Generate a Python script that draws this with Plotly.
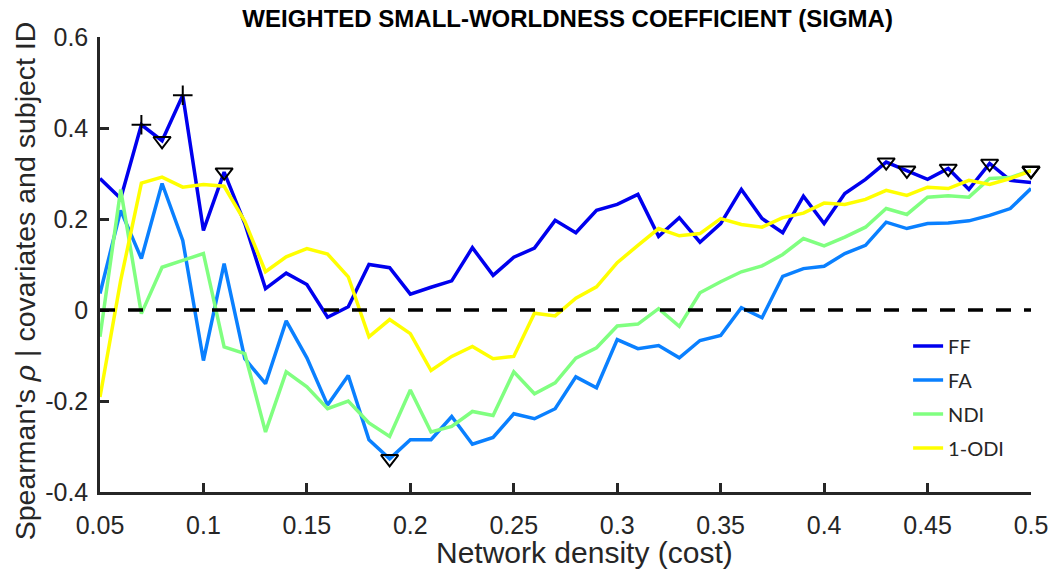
import plotly.graph_objects as go

# Network density (cost) thresholds
density = [0.05, 0.06, 0.07, 0.08, 0.09, 0.10, 0.11, 0.12, 0.13, 0.14,
           0.15, 0.16, 0.17, 0.18, 0.19, 0.20, 0.21, 0.22, 0.23, 0.24,
           0.25, 0.26, 0.27, 0.28, 0.29, 0.30, 0.31, 0.32, 0.33, 0.34,
           0.35, 0.36, 0.37, 0.38, 0.39, 0.40, 0.41, 0.42, 0.43, 0.44,
           0.45, 0.46, 0.47, 0.48, 0.49, 0.50]

# Partial Spearman correlations of weighted sigma with each microstructure measure
ff = [0.289, 0.245, 0.407, 0.372, 0.472, 0.175, 0.303, 0.190, 0.047, 0.081,
      0.056, -0.016, 0.007, 0.100, 0.093, 0.035, 0.050, 0.064, 0.137, 0.076,
      0.116, 0.136, 0.197, 0.170, 0.219, 0.232, 0.254, 0.162, 0.203, 0.149,
      0.190, 0.265, 0.201, 0.170, 0.250, 0.190, 0.256, 0.287, 0.325, 0.307,
      0.287, 0.311, 0.265, 0.322, 0.285, 0.280]
fa = [0.036, 0.219, 0.113, 0.278, 0.153, -0.111, 0.102, -0.107, -0.162, -0.024,
      -0.105, -0.209, -0.144, -0.285, -0.327, -0.285, -0.285, -0.234, -0.295, -0.280,
      -0.228, -0.239, -0.217, -0.147, -0.171, -0.065, -0.085, -0.078, -0.105, -0.067,
      -0.056, 0.005, -0.017, 0.074, 0.091, 0.096, 0.124, 0.142, 0.193, 0.179,
      0.190, 0.191, 0.196, 0.208, 0.223, 0.267]
ndi = [-0.059, 0.265, -0.008, 0.094, 0.109, 0.124, -0.081, -0.096, -0.268, -0.136,
       -0.169, -0.217, -0.200, -0.248, -0.278, -0.176, -0.268, -0.256, -0.223, -0.232,
       -0.136, -0.184, -0.160, -0.106, -0.083, -0.035, -0.031, 0.003, -0.036, 0.038,
       0.062, 0.084, 0.097, 0.122, 0.157, 0.141, 0.160, 0.182, 0.223, 0.210,
       0.248, 0.251, 0.248, 0.289, 0.291, 0.307]
odi = [-0.191, 0.065, 0.279, 0.292, 0.270, 0.276, 0.272, 0.195, 0.084, 0.117,
       0.135, 0.123, 0.073, -0.059, -0.021, -0.052, -0.133, -0.102, -0.080, -0.107,
       -0.102, -0.007, -0.013, 0.026, 0.051, 0.104, 0.142, 0.179, 0.163, 0.168,
       0.201, 0.188, 0.182, 0.203, 0.213, 0.235, 0.232, 0.243, 0.263, 0.252,
       0.270, 0.267, 0.285, 0.276, 0.289, 0.306]

series_names = ["FF", "FA", "NDI", "1-ODI"]
series_colors = ["#0000EE", "#0A80FF", "#80FF80", "#FFFF00"]

# Densities flagged as significant ('+' and downward triangles)
ff_plus = [0.07, 0.09]
ff_tri = [0.08, 0.11, 0.43, 0.44, 0.46, 0.48]
fa_tri = [0.19]
ndi_tri = [0.50]
odi_tri = [0.50]

x_ticks = [0.05, 0.10, 0.15, 0.20, 0.25, 0.30, 0.35, 0.40, 0.45, 0.50]
x_ticklabels = ["0.05", "0.1", "0.15", "0.2", "0.25", "0.3", "0.35", "0.4", "0.45", "0.5"]
y_ticks = [-0.4, -0.2, 0.0, 0.2, 0.4, 0.6]
y_ticklabels = ["-0.4", "-0.2", "0", "0.2", "0.4", "0.6"]

FONT = "Liberation Sans, Arial, sans-serif"
AXIS_COLOR = "#262626"

fig = go.Figure()

for name, vals, col in zip(series_names, [ff, fa, ndi, odi], series_colors):
    fig.add_trace(go.Scatter(
        x=density, y=vals, mode="lines", name=name, legendgroup=name,
        line=dict(color=col, width=3.5), cliponaxis=False,
    ))


def marker_trace(xs, vals, symbol, size):
    lookup = dict(zip(density, vals))
    return go.Scatter(
        x=xs, y=[lookup[v] for v in xs], mode="markers", showlegend=False,
        hoverinfo="skip", cliponaxis=False,
        marker=dict(symbol=symbol, size=size, color="black",
                    line=dict(color="black", width=2)),
    )


fig.add_trace(marker_trace(ff_plus, ff, "cross-thin-open", 14))
fig.add_trace(marker_trace(ff_tri, ff, "triangle-down-open", 15))
fig.add_trace(marker_trace(fa_tri, fa, "triangle-down-open", 15))
fig.add_trace(marker_trace(ndi_tri, ndi, "triangle-down-open", 15))
fig.add_trace(marker_trace(odi_tri, odi, "triangle-down-open", 15))

# Zero reference line
fig.add_shape(type="line", xref="paper", yref="y", x0=0, x1=1, y0=0, y1=0,
              line=dict(color="black", width=3.5, dash="15px,13px"), layer="above")

fig.update_layout(
    width=1060, height=575,
    margin=dict(l=100, r=26, t=37, b=83),
    paper_bgcolor="white", plot_bgcolor="white",
    font=dict(family=FONT, color=AXIS_COLOR),
    title=dict(text="<b>WEIGHTED SMALL-WORLDNESS COEFFICIENT (SIGMA)</b>",
               x=0.5355, xanchor="center", y=0.967, yanchor="middle",
               font=dict(family=FONT, size=24, color="black")),
    showlegend=True,
    legend=dict(x=0.868, xanchor="left", y=0.364, yanchor="top",
                bgcolor="rgba(0,0,0,0)", borderwidth=0,
                font=dict(family="Lato, Noto Sans, sans-serif", size=20, color="#262626"),
                tracegroupgap=5, itemwidth=30),
)

fig.update_xaxes(
    range=[0.05, 0.5], tickvals=x_ticks, ticktext=x_ticklabels,
    ticks="inside", ticklen=9, tickwidth=2.5, tickcolor=AXIS_COLOR,
    showline=True, linecolor=AXIS_COLOR, linewidth=2.5, mirror=False,
    showgrid=False, zeroline=False, ticklabelstandoff=9,
    tickfont=dict(size=25, color=AXIS_COLOR),
)
fig.update_yaxes(
    range=[-0.4, 0.6], tickvals=y_ticks, ticktext=y_ticklabels,
    ticks="inside", ticklen=9, tickwidth=2.5, tickcolor=AXIS_COLOR,
    showline=True, linecolor=AXIS_COLOR, linewidth=2.5, mirror=False,
    showgrid=False, zeroline=False, ticklabelstandoff=4,
    tickfont=dict(size=25, color=AXIS_COLOR),
)

# Axis titles
fig.add_annotation(
    text="Network density (cost)",
    xref="paper", yref="paper", x=0.52, y=-0.134,
    xanchor="center", yanchor="middle", showarrow=False,
    font=dict(family=FONT, size=30, color=AXIS_COLOR),
)
fig.add_annotation(
    text="Spearman's <i>ρ</i> | covariates and subject ID",
    xref="paper", yref="paper", x=-0.0803, y=0.4637,
    xanchor="center", yanchor="middle", textangle=-90, showarrow=False,
    font=dict(family=FONT, size=28.5, color=AXIS_COLOR),
)

fig.write_html("out.html")
